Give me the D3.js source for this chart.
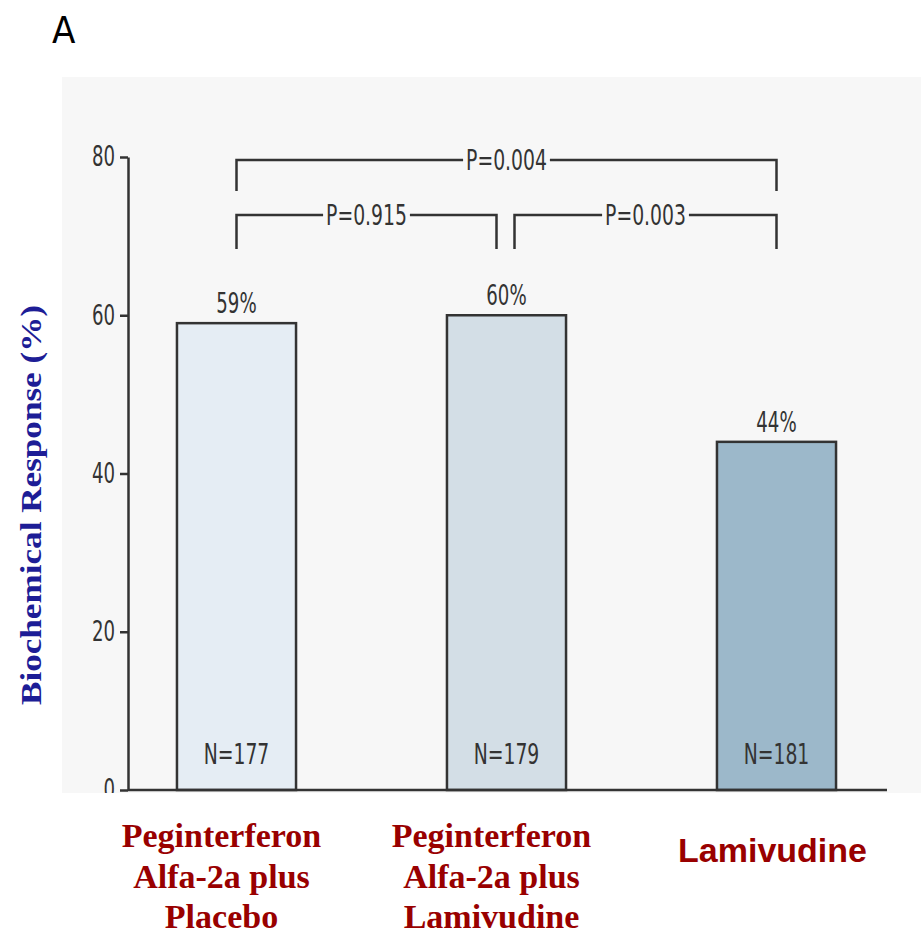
<!DOCTYPE html>
<html>
<head>
<meta charset="utf-8">
<script src="https://cdn.jsdelivr.net/npm/d3@7"></script>
<style>
  body { margin: 0; background: #fff; }
  svg { display: block; }
</style>
</head>
<body>
<svg></svg>
<script>
const size = {w: 921, h: 934};
const panel = {x: 62, y: 77, w: 859, h: 716};
const narrow = '"DejaVu Sans Condensed", "DejaVu Sans", sans-serif';
const squeeze = 0.72;

// data
const groups = ['Peginterferon Alfa-2a plus Placebo', 'Peginterferon Alfa-2a plus Lamivudine', 'Lamivudine'];
const groupLines = [['Peginterferon', 'Alfa-2a plus', 'Placebo'], ['Peginterferon', 'Alfa-2a plus', 'Lamivudine'], ['Lamivudine']];
const response = [59, 60, 44];
const nPatients = [177, 179, 181];
const yTicks = [0, 20, 40, 60, 80];
const comparisons = [[0, 2], [0, 1], [1, 2]];
const pValues = ['0.004', '0.915', '0.003'];
const barColors = ['#e5edf4', '#d3dee6', '#9cb8ca'];

const svg = d3.select('svg').attr('width', size.w).attr('height', size.h);

// squash the condensed font further so it looks like the narrow journal face
function narrowText(sel) {
    sel.each(function() {
        let len = this.getComputedTextLength();
        d3.select(this)
            .attr('textLength', len * squeeze)
            .attr('lengthAdjust', 'spacingAndGlyphs');
    });
}

svg.append('defs').append('clipPath').attr('id', 'panelClip')
    .append('rect')
    .attr('x', panel.x).attr('y', panel.y)
    .attr('width', panel.w).attr('height', panel.h);

svg.append('rect')
    .attr('x', panel.x).attr('y', panel.y)
    .attr('width', panel.w).attr('height', panel.h)
    .attr('fill', '#f7f7f7');

const g = svg.append('g').attr('clip-path', 'url(#panelClip)');

const x = d3.scaleBand()
    .domain(groups)
    .range([101.5, 911.5])
    .paddingInner(0.559)
    .paddingOuter(0.2795);

const y = d3.scaleLinear().domain([0, 80]).range([790, 157]);

const axisX = 128;

// y axis
const yAxis = g.append('g')
    .attr('transform', `translate(${axisX},0)`)
    .call(d3.axisLeft(y).tickValues(yTicks).tickSize(8).tickSizeOuter(0).tickPadding(5));
yAxis.select('.domain').attr('stroke', '#333').attr('stroke-width', 2.5);
yAxis.selectAll('.tick line').attr('stroke', '#333').attr('stroke-width', 2.5);
yAxis.selectAll('.tick text')
    .attr('font-family', narrow)
    .attr('font-size', 28)
    .attr('fill', '#333')
    .call(narrowText);

// bars
g.selectAll('rect.bar')
    .data(groups)
    .join('rect')
    .attr('class', 'bar')
    .attr('x', d => x(d))
    .attr('y', (d, i) => y(response[i]))
    .attr('width', x.bandwidth())
    .attr('height', (d, i) => y(0) - y(response[i]))
    .attr('fill', (d, i) => barColors[i])
    .attr('stroke', '#333')
    .attr('stroke-width', 2.5);

// baseline
g.append('line')
    .attr('x1', axisX).attr('x2', 887)
    .attr('y1', y(0)).attr('y2', y(0))
    .attr('stroke', '#333').attr('stroke-width', 2.5);

// percent labels
g.selectAll('text.pct')
    .data(groups)
    .join('text')
    .attr('class', 'pct')
    .attr('x', d => x(d) + x.bandwidth() / 2)
    .attr('y', (d, i) => y(response[i]) - 10)
    .attr('text-anchor', 'middle')
    .attr('font-family', narrow)
    .attr('font-size', 28)
    .attr('fill', '#333')
    .text((d, i) => response[i] + '%')
    .call(narrowText);

// N labels
g.selectAll('text.n')
    .data(groups)
    .join('text')
    .attr('class', 'n')
    .attr('x', d => x(d) + x.bandwidth() / 2)
    .attr('y', 764)
    .attr('text-anchor', 'middle')
    .attr('font-family', narrow)
    .attr('font-size', 29)
    .attr('fill', '#333')
    .text((d, i) => 'N=' + nPatients[i])
    .call(narrowText);

// significance brackets
const bracketY = [160, 215, 215];
const drop = [31, 34, 34];
comparisons.forEach(function(pair, k) {
    let cx = i => x(groups[i]) + x.bandwidth() / 2;
    let x1 = cx(pair[0]), x2 = cx(pair[1]);
    // nudge off the middle bar centre so the two lower brackets don't touch
    if (k > 0) {
        if (pair[0] === 1) x1 += 8;
        if (pair[1] === 1) x2 -= 10;
    }
    let by = bracketY[k];
    let mid = (x1 + x2) / 2;
    let grp = g.append('g');
    let t = grp.append('text')
        .attr('x', mid)
        .attr('y', by)
        .attr('dy', '0.36em')
        .attr('text-anchor', 'middle')
        .attr('font-family', narrow)
        .attr('font-size', 29)
        .attr('fill', '#333')
        .text('P=' + pValues[k])
        .call(narrowText);
    let half = +t.attr('textLength') / 2 + 3;
    grp.insert('path', 'text')
        .attr('d', `M${x1},${by + drop[k]}V${by}H${mid - half}M${mid + half},${by}H${x2}V${by + drop[k]}`)
        .attr('fill', 'none')
        .attr('stroke', '#333')
        .attr('stroke-width', 2.5);
});

// panel letter
svg.append('text')
    .attr('x', 52).attr('y', 43)
    .attr('font-family', narrow)
    .attr('font-size', 38)
    .attr('fill', '#000')
    .text('A');

// y title
svg.append('text')
    .attr('transform', 'translate(41,505) rotate(-90)')
    .attr('text-anchor', 'middle')
    .attr('font-family', '"Liberation Serif", "Times New Roman", serif')
    .attr('font-weight', 'bold')
    .attr('font-size', 30)
    .attr('textLength', 400)
    .attr('lengthAdjust', 'spacingAndGlyphs')
    .attr('fill', '#1d1d96')
    .text('Biochemical Response (%)');

// category labels
groups.forEach(function(grp, i) {
    let lines = groupLines[i];
    let serif = lines.length > 1;
    let t = svg.append('text')
        .attr('text-anchor', 'middle')
        .attr('font-family', serif ? '"Liberation Serif", "Times New Roman", serif' : '"Liberation Sans", Arial, sans-serif')
        .attr('font-weight', 'bold')
        .attr('font-size', 34)
        .attr('fill', '#990000');
    lines.forEach(function(line, j) {
        t.append('tspan')
            .attr('x', x(grp) + x.bandwidth() / 2 - (serif ? 15 : 4))
            .attr('y', serif ? 847 + j * 40.5 : 862)
            .text(line);
    });
});
</script>
</body>
</html>
